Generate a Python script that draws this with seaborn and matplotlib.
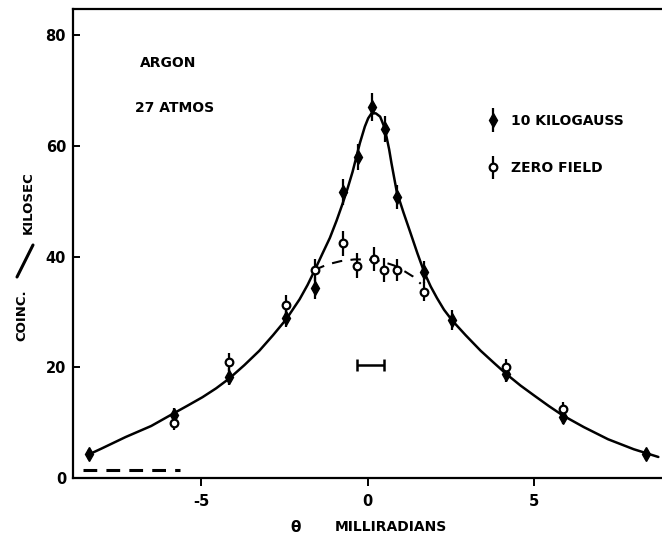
import numpy as np
import pandas as pd
import matplotlib
matplotlib.use("Agg")
import matplotlib.pyplot as plt
import seaborn as sns
from matplotlib.lines import Line2D
from matplotlib.container import ErrorbarContainer
from matplotlib.legend_handler import HandlerErrorbar

# 10 kilogauss measurements
theta_field = [-8.36, -5.82, -4.15, -2.44, -1.59, -0.73, -0.30, 0.13, 0.53, 0.88, 1.71, 2.54, 4.17, 5.87, 8.36]
rate_field = [4.3, 11.3, 18.3, 29.0, 34.3, 51.7, 58.0, 67.0, 63.1, 50.8, 37.3, 28.5, 18.8, 11.0, 4.3]
err_field = [1.0, 1.3, 1.5, 1.8, 2.0, 2.3, 2.4, 2.5, 2.4, 2.2, 2.0, 1.8, 1.5, 1.3, 1.0]

# zero-field measurements
theta_zero = [-5.82, -4.15, -2.44, -1.59, -0.75, -0.33, 0.21, 0.51, 0.90, 1.71, 4.17, 5.87]
rate_zero = [9.9, 21.0, 31.2, 37.6, 42.4, 38.4, 39.6, 37.6, 37.6, 33.7, 20.0, 12.5]
err_zero = [1.3, 1.6, 1.8, 2.0, 2.3, 2.2, 2.2, 2.1, 2.0, 1.8, 1.5, 1.3]

# fitted curve through the 10 kG points
fit_theta = [-8.36, -8.00, -7.27, -6.50, -5.82, -5.40, -4.96, -4.55, -4.15, -3.70, -3.25,
             -2.84, -2.44, -2.04, -1.80, -1.59, -1.35, -1.13, -0.93, -0.73, -0.60,
             -0.45, -0.34, -0.23, -0.15, -0.08, 0.02, 0.12, 0.25, 0.38, 0.48, 0.57,
             0.65, 0.72, 0.80, 0.88, 1.08, 1.28, 1.50, 1.71, 1.90, 2.09, 2.30, 2.54,
             2.95, 3.40, 3.80, 4.17, 4.60, 5.01, 5.45, 5.87, 6.50, 7.23, 8.00, 8.74]
fit_rate = [4.3, 5.3, 7.4, 9.4, 11.7, 13.1, 14.6, 16.2, 18.0, 20.4, 23.0,
            25.8, 28.7, 32.3, 34.9, 37.5, 40.6, 43.4, 46.5, 49.9, 52.3,
            55.3, 57.9, 60.5, 62.1, 63.5, 65.0, 65.9, 65.9, 65.3, 63.8, 61.7,
            59.4, 56.9, 54.3, 51.7, 48.0, 44.5, 40.6, 37.1, 34.6, 32.5, 30.4, 28.5,
            25.8, 23.0, 20.8, 18.8, 16.7, 14.9, 13.0, 11.3, 9.2, 7.0, 5.2, 3.8]

# zero-field curve near the centre
zero_theta = [-1.59, -1.20, -0.80, -0.40, 0.00, 0.40, 0.80, 1.13, 1.37, 1.60]
zero_rate = [37.6, 38.6, 39.2, 39.5, 39.5, 39.2, 38.4, 37.3, 36.4, 35.1]

# background level and angular resolution
bg_theta = [-8.54, -5.63]
bg_rate = [1.45, 1.45]
res_theta = [-0.33, 0.49]
res_rate = 20.4

x_ticks = [-5, 0, 5]
y_ticks = [0, 20, 40, 60, 80]

sns.set_style("ticks")
plt.rcParams["font.family"] = ["DejaVu Sans"]
plt.rcParams["font.weight"] = "bold"
plt.rcParams["axes.unicode_minus"] = False
plt.rcParams["text.color"] = "black"
plt.rcParams["xtick.color"] = "black"
plt.rcParams["ytick.color"] = "black"
plt.rcParams["axes.edgecolor"] = "black"
plt.rcParams["lines.solid_joinstyle"] = "round"
plt.rcParams["lines.dash_capstyle"] = "butt"

fig = plt.figure(figsize=(6.62, 5.43), dpi=100)
ax = fig.add_axes([73 / 662, 65 / 543, 1 - 73 / 662, (478 - 9.3) / 543])

fit_df = pd.DataFrame({"theta": fit_theta, "rate": fit_rate})
zero_df = pd.DataFrame({"theta": zero_theta, "rate": zero_rate})
bg_df = pd.DataFrame({"theta": bg_theta, "rate": bg_rate})

sns.lineplot(data=fit_df, x="theta", y="rate", sort=False, estimator=None,
             color="black", lw=1.8, ax=ax, zorder=2)
sns.lineplot(data=zero_df, x="theta", y="rate", sort=False, estimator=None,
             color="black", lw=1.5, ax=ax, zorder=2)
ax.lines[-1].set_dashes([5, 4])
sns.lineplot(data=bg_df, x="theta", y="rate", sort=False, estimator=None,
             color="black", lw=2.2, ax=ax, zorder=2)
ax.lines[-1].set_dashes([4.5, 3])

eb_field = ax.errorbar(theta_field, rate_field, yerr=err_field, fmt="d", color="black",
                       ms=7.5, mfc="black", mec="black", elinewidth=1.6, capsize=0,
                       zorder=4, label="10 KILOGAUSS")
eb_zero = ax.errorbar(theta_zero, rate_zero, yerr=err_zero, fmt="o", color="black",
                      ms=5.5, mfc="white", mec="black", mew=1.6, elinewidth=1.6,
                      capsize=0, zorder=5, label="ZERO FIELD")

# resolution bar
res_mid = np.mean(res_theta)
ax.errorbar([res_mid], [res_rate],
            xerr=[[res_mid - res_theta[0]], [res_theta[1] - res_mid]],
            fmt="none", color="black", elinewidth=1.8, capsize=4.5, capthick=1.8)

ax.set_xlim(-8.85, 8.85)
ax.set_ylim(0, 84.7)
ax.set_xticks(x_ticks)
ax.set_yticks(y_ticks)
ax.tick_params(axis="x", direction="out", length=6, width=1.4, pad=5.5, labelsize=10.5)
ax.tick_params(axis="y", direction="in", length=5, width=1.4, pad=5, labelsize=10.5)
for lab in ax.get_xticklabels() + ax.get_yticklabels():
    lab.set_fontweight("bold")
for side in ["left", "bottom", "top"]:
    ax.spines[side].set_linewidth(1.6)
ax.spines["right"].set_visible(False)
ax.set_xlabel("")
ax.set_ylabel("")

fig.text(140 / 662, 1 - 62.7 / 543, "ARGON", fontsize=10, fontweight="bold", va="center", ha="left")
fig.text(135 / 662, 1 - 108 / 543, "27 ATMOS", fontsize=10, fontweight="bold", va="center", ha="left")

fig.text(296 / 662, 1 - 527 / 543, "θ", fontsize=11, fontweight="bold", va="center", ha="center")
fig.text(335 / 662, 1 - 527 / 543, "MILLIRADIANS", fontsize=10, fontweight="bold", va="center", ha="left")

fig.text(21.7 / 662, 1 - 315 / 543, "COINC.", rotation=90, fontsize=9.5, fontweight="bold",
         va="center", ha="center")
fig.text(28.3 / 662, 1 - 203 / 543, "KILOSEC", rotation=90, fontsize=9.5, fontweight="bold",
         va="center", ha="center")
fig.add_artist(Line2D([17 / 662, 33 / 662], [1 - 277 / 543, 1 - 245 / 543],
                      transform=fig.transFigure, color="black", lw=2.2))

leg = ax.legend(handles=[eb_field, eb_zero], labels=["10 KILOGAUSS", "ZERO FIELD"],
                loc="upper left", bbox_to_anchor=(487.5 / 662, 1 - 114 / 543),
                bbox_transform=fig.transFigure, frameon=False, handlelength=0.8,
                handletextpad=0.9, labelspacing=2.4, borderpad=0, borderaxespad=0,
                prop=dict(weight="bold", size=10),
                handler_map={ErrorbarContainer: HandlerErrorbar(xerr_size=0.3, yerr_size=0.85)})

fig.savefig("out.png", dpi=100)
